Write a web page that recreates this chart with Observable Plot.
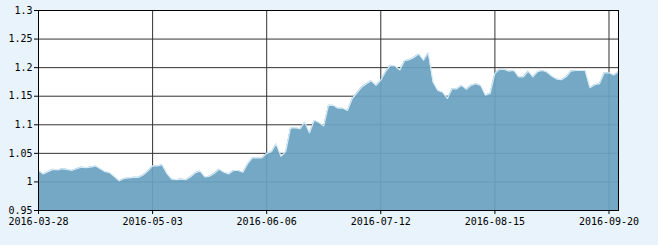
<!DOCTYPE html>
<html>
<head>
<meta charset="utf-8">
<script src="https://cdn.jsdelivr.net/npm/d3@7"></script>
<script src="https://cdn.jsdelivr.net/npm/@observablehq/plot@0.6"></script>
<style>
  html, body { margin: 0; padding: 0; background: #e8f3fb; }
  #chart { width: 658px; height: 245px; }
</style>
</head>
<body>
<div id="chart"></div>
<script>
// Net value per trading day (index 0 = 2016-03-28)
const values = [
  1.020, 1.014, 1.018, 1.022, 1.021, 1.023, 1.022, 1.020, 1.023, 1.026,
  1.025, 1.026, 1.028, 1.023, 1.018, 1.016, 1.009, 1.002, 1.006, 1.007,
  1.008, 1.008, 1.012, 1.019, 1.028, 1.028, 1.030, 1.015, 1.005, 1.004,
  1.005, 1.004, 1.009, 1.016, 1.019, 1.009, 1.010, 1.015, 1.022, 1.017,
  1.014, 1.020, 1.020, 1.017, 1.032, 1.042, 1.042, 1.042, 1.050, 1.053,
  1.067, 1.045, 1.053, 1.094, 1.095, 1.093, 1.105, 1.086, 1.108, 1.104,
  1.098, 1.134, 1.134, 1.129, 1.129, 1.125, 1.146, 1.156, 1.166, 1.172,
  1.177, 1.169, 1.178, 1.193, 1.204, 1.203, 1.196, 1.212, 1.214, 1.218,
  1.224, 1.213, 1.226, 1.175, 1.160, 1.157, 1.146, 1.163, 1.163, 1.169,
  1.162, 1.169, 1.172, 1.169, 1.152, 1.155, 1.190, 1.197, 1.197, 1.194,
  1.195, 1.184, 1.184, 1.194, 1.184, 1.193, 1.195, 1.192, 1.185, 1.180,
  1.179, 1.184, 1.194, 1.195, 1.195, 1.195, 1.165, 1.170, 1.172, 1.191,
  1.191, 1.187, 1.193
];
const xTickIndex = [0, 24, 48, 72, 96, 120];
const xTickLabels = ["2016-03-28", "2016-05-03", "2016-06-06", "2016-07-12", "2016-08-15", "2016-09-20"];
const yTicks = [0.95, 1.0, 1.05, 1.1, 1.15, 1.2, 1.25, 1.3];
const yTickLabels = ["0.95", "1", "1.05", "1.1", "1.15", "1.2", "1.25", "1.3"];

const data = values.map((v, i) => ({i, v}));
const yGrid = yTicks.slice(1, -1);
const xGrid = xTickIndex.slice(1);

const chart = Plot.plot({
  width: 658,
  height: 245,
  marginLeft: 38,
  marginRight: 40,
  marginTop: 10,
  marginBottom: 35,
  style: {background: "transparent", fontFamily: "'DejaVu Sans Mono', monospace", fontSize: "10px", color: "#000"},
  x: {domain: [0, values.length - 1], ticks: xTickIndex, tickFormat: (d) => xTickLabels[xTickIndex.indexOf(d)], tickSize: 4, tickPadding: 3, label: null},
  y: {domain: [0.95, 1.3], ticks: yTicks, tickFormat: (d) => yTickLabels[yTicks.findIndex(t => Math.abs(t - d) < 1e-9)], tickSize: 4, tickPadding: 2, label: null},
  marks: [
    Plot.frame({fill: "white", stroke: null}),
    Plot.ruleY(yGrid, {stroke: "#333", strokeWidth: 1}),
    Plot.ruleX(xGrid, {stroke: "#333", strokeWidth: 1}),
    Plot.areaY(data, {x: "i", y1: 0.95, y2: "v", fill: "rgb(106,161,192)", fillOpacity: 0.93, curve: "linear"}),
    Plot.line(data, {x: "i", y: "v", stroke: "#d6ebf8", strokeWidth: 1.2, curve: "linear"}),
    Plot.frame({stroke: "#000", strokeWidth: 1})
  ]
});
document.getElementById("chart").appendChild(chart);
</script>
</body>
</html>
